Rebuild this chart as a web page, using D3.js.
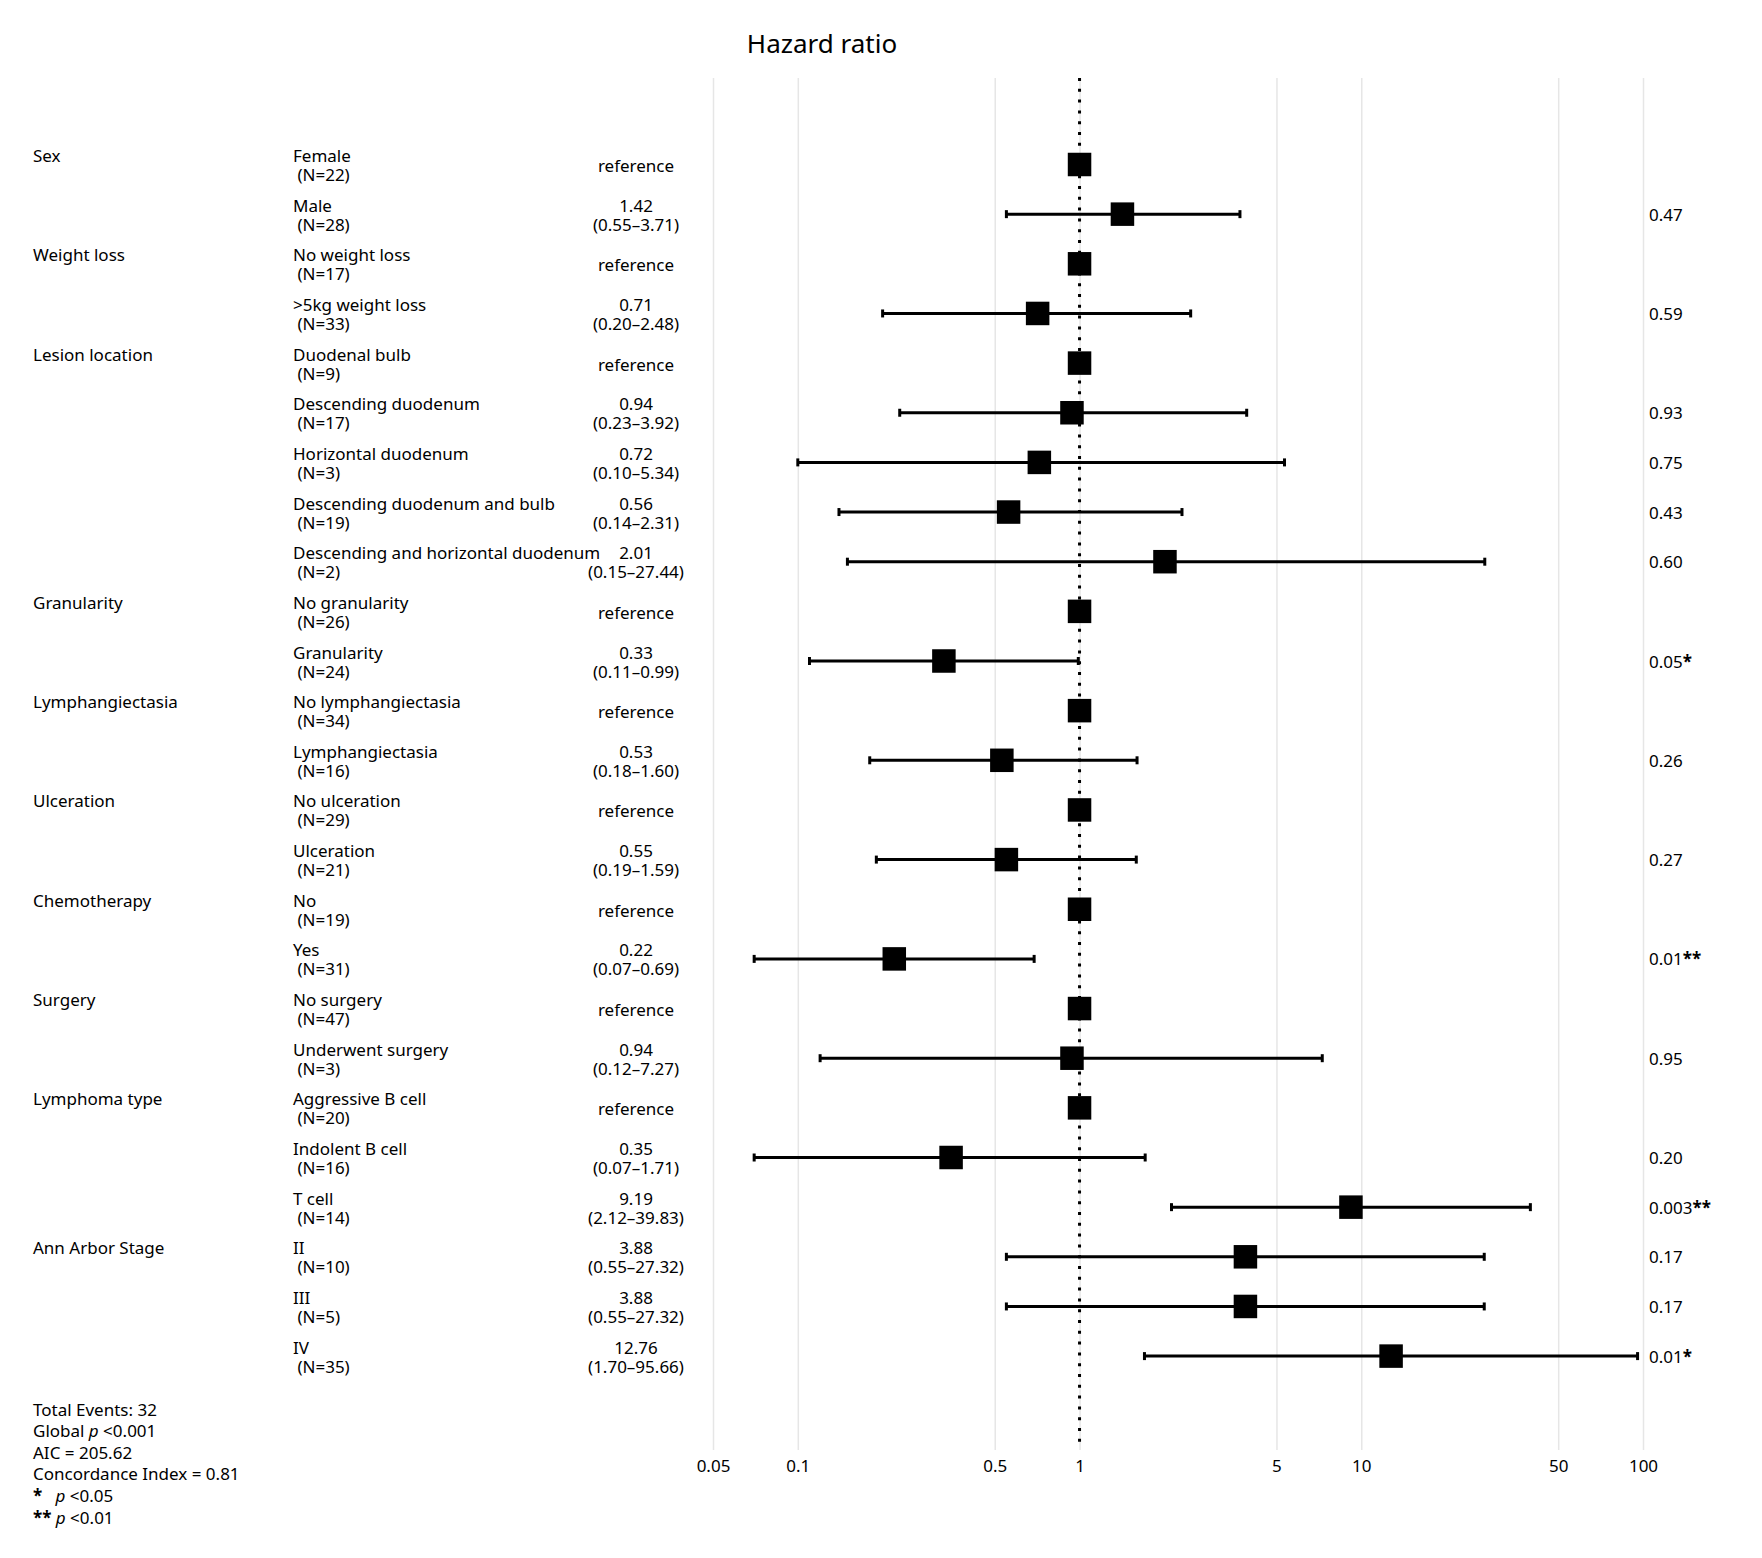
<!DOCTYPE html>
<html lang="en">
    <head>
        <meta charset="utf-8">
        <title>Hazard ratio</title>
        <script src="https://d3js.org/d3.v7.min.js"></script>
        <style type="text/css">
            body {
                margin: 0;
                background: #ffffff;
            }
            text {
                font-family: "Noto Sans", "DejaVu Sans", sans-serif;
                font-size: 17px;
                fill: #000000;
            }
            .title {
                font-size: 26px;
            }
            .grid line {
                stroke: #e6e6e6;
                stroke-width: 1.5px;
            }
            .ci {
                stroke: #000000;
                stroke-width: 3px;
            }
        </style>
    </head>
    <body>
        <script type="text/javascript">

            //data
            const varNames  = ["Sex", "Weight loss", "Lesion location", "Granularity", "Lymphangiectasia",
                               "Ulceration", "Chemotherapy", "Surgery", "Lymphoma type", "Ann Arbor Stage"];
            const varLevels = [2, 2, 5, 2, 2, 2, 2, 2, 3, 3];//levels per variable

            const levels = ["Female", "Male", "No weight loss", ">5kg weight loss", "Duodenal bulb",
                            "Descending duodenum", "Horizontal duodenum", "Descending duodenum and bulb",
                            "Descending and horizontal duodenum", "No granularity", "Granularity",
                            "No lymphangiectasia", "Lymphangiectasia", "No ulceration", "Ulceration",
                            "No", "Yes", "No surgery", "Underwent surgery", "Aggressive B cell",
                            "Indolent B cell", "T cell", "II", "III", "IV"];
            const nCounts = [22, 28, 17, 33, 9, 17, 3, 19, 2, 26, 24, 34, 16, 29, 21, 19, 31, 47, 3, 20, 16, 14, 10, 5, 35];

            //null = reference level
            const hr    = [null, 1.42, null, 0.71, null, 0.94, 0.72, 0.56, 2.01, null, 0.33, null, 0.53, null, 0.55,
                           null, 0.22, null, 0.94, null, 0.35, 9.19, 3.88, 3.88, 12.76];
            const lower = [null, 0.55, null, 0.20, null, 0.23, 0.10, 0.14, 0.15, null, 0.11, null, 0.18, null, 0.19,
                           null, 0.07, null, 0.12, null, 0.07, 2.12, 0.55, 0.55, 1.70];
            const upper = [null, 3.71, null, 2.48, null, 3.92, 5.34, 2.31, 27.44, null, 0.99, null, 1.60, null, 1.59,
                           null, 0.69, null, 7.27, null, 1.71, 39.83, 27.32, 27.32, 95.66];
            const pValues = [null, "0.47", null, "0.59", null, "0.93", "0.75", "0.43", "0.60", null, "0.05", null, "0.26",
                             null, "0.27", null, "0.01", null, "0.95", null, "0.20", "0.003", "0.17", "0.17", "0.01"];
            const pStars  = ["", "", "", "", "", "", "", "", "", "", "*", "", "", "", "", "", "**", "", "", "", "", "**", "", "", "*"];

            const xTicks = [0.05, 0.1, 0.5, 1, 5, 10, 50, 100];

            const footNotes = ["Total Events: 32", "Global |p| <0.001", "AIC = 205.62", "Concordance Index = 0.81",
                               "*|   |p| <0.05", "**| |p| <0.01"];

            //layout
            const w = 1762;
            const h = 1558;
            const colVar = 33;
            const colLevel = 293;
            const colHR = 636;
            const colP = 1649;
            const plotTop = 78;
            const plotBottom = 1450;
            const boxSize = 23.5;
            const capH = 8;
            const fmt = d3.format(".2f");

            const rows = levels.map((d, i) => ({
                i: i,
                level: d,
                n: nCounts[i],
                hr: hr[i] === null ? 1 : hr[i],
                isRef: hr[i] === null,
                lower: lower[i],
                upper: upper[i],
                p: pValues[i],
                star: pStars[i]
            }));

            //first row of each variable
            let start = 0;
            const varRows = varNames.map((v, k) => {
                const r = { name: v, row: start };
                start += varLevels[k];
                return r;
            });

            //scales
            const xScale = d3.scaleLog()
                             .domain([0.05, 100])
                             .range([713, 1643]);

            const yScale = d3.scalePoint()
                             .domain(d3.range(levels.length))
                             .range([164.5, 164.5 + 24 * 49.65]);

            const svg = d3.select("body")
                    .append("svg")
                    .attr("width", w)
                    .attr("height", h);

            //title
            svg.append("text")
               .attr("class", "title")
               .attr("x", 822)
               .attr("y", 53)
               .attr("text-anchor", "middle")
               .text("Hazard ratio");

            //grid lines
            const gridAxis = d3.axisBottom(xScale)
                               .tickValues(xTicks)
                               .tickSize(-(plotBottom - plotTop))
                               .tickFormat("");

            svg.append("g")
               .attr("class", "grid")
               .attr("transform", "translate(0," + plotBottom + ")")
               .call(gridAxis)
               .call(g => g.select(".domain").remove());

            //tick labels
            const bottomAxis = d3.axisBottom(xScale)
                                 .tickValues(xTicks)
                                 .tickSize(0)
                                 .tickPadding(5)
                                 .tickFormat(d3.format("~g"));

            svg.append("g")
               .attr("transform", "translate(0," + (plotBottom + 5) + ")")
               .call(bottomAxis)
               .call(g => g.select(".domain").remove())
               .selectAll("text")
               .attr("fill", "#000")
               .style("font-size", "17px")
               .style("font-family", "\"Noto Sans\", sans-serif");

            //reference line at HR = 1
            svg.append("line")
               .attr("x1", xScale(1))
               .attr("x2", xScale(1))
               .attr("y1", plotTop)
               .attr("y2", plotBottom - 6)
               .attr("stroke", "#000")
               .attr("stroke-width", 3)
               .attr("stroke-dasharray", "3 7.8");

            //confidence intervals
            const ciRows = rows.filter(d => !d.isRef);

            svg.selectAll(".ci")
               .data(ciRows)
               .enter()
               .append("line")
               .attr("class", "ci")
               .attr("x1", d => xScale(d.lower))
               .attr("x2", d => xScale(d.upper))
               .attr("y1", d => yScale(d.i))
               .attr("y2", d => yScale(d.i));

            //end caps
            ["lower", "upper"].forEach(k => {
                svg.selectAll(".cap-" + k)
                   .data(ciRows)
                   .enter()
                   .append("line")
                   .attr("class", "ci cap-" + k)
                   .attr("x1", d => xScale(d[k]))
                   .attr("x2", d => xScale(d[k]))
                   .attr("y1", d => yScale(d.i) - capH / 2)
                   .attr("y2", d => yScale(d.i) + capH / 2);
            });

            //point estimates
            svg.selectAll(".box")
               .data(rows)
               .enter()
               .append("rect")
               .attr("class", "box")
               .attr("x", d => xScale(d.hr) - boxSize / 2)
               .attr("y", d => yScale(d.i) - boxSize / 2)
               .attr("width", boxSize)
               .attr("height", boxSize)
               .attr("fill", "#000");

            //variable names
            svg.selectAll(".varname")
               .data(varRows)
               .enter()
               .append("text")
               .attr("class", "varname")
               .attr("x", colVar)
               .attr("y", d => yScale(d.row) - 2.5)
               .text(d => d.name);

            //level + N
            const lvl = svg.selectAll(".level")
               .data(rows)
               .enter()
               .append("text")
               .attr("class", "level")
               .attr("x", colLevel)
               .attr("y", d => yScale(d.i) - 2.5)
               .attr("xml:space", "preserve");

            lvl.append("tspan").text(d => d.level);
            lvl.append("tspan")
               .attr("x", colLevel)
               .attr("dy", 19)
               .text(d => " (N=" + d.n + ")");

            //HR column
            const hrText = svg.selectAll(".hrtext")
               .data(rows)
               .enter()
               .append("text")
               .attr("class", "hrtext")
               .attr("text-anchor", "middle")
               .attr("x", colHR)
               .attr("y", d => d.isRef ? yScale(d.i) + 7.5 : yScale(d.i) - 2.5);

            hrText.filter(d => d.isRef).text("reference");
            hrText.filter(d => !d.isRef).append("tspan").text(d => fmt(d.hr));
            hrText.filter(d => !d.isRef).append("tspan")
                  .attr("x", colHR)
                  .attr("dy", 19)
                  .text(d => "(" + fmt(d.lower) + "\u2013" + fmt(d.upper) + ")");

            //p values
            const pText = svg.selectAll(".ptext")
               .data(rows.filter(d => d.p !== null))
               .enter()
               .append("text")
               .attr("class", "ptext")
               .attr("x", colP)
               .attr("y", d => yScale(d.i) + 6.5);

            pText.append("tspan").text(d => d.p);
            pText.append("tspan")
                 .style("font-weight", "bold")
                 .text(d => d.star);

            //footnotes, "|" splits plain / italic p / bold stars
            const foot = svg.selectAll(".foot")
               .data(footNotes)
               .enter()
               .append("text")
               .attr("class", "foot")
               .attr("x", colVar)
               .attr("y", (d, i) => 1415.5 + i * 21.6)
               .attr("xml:space", "preserve");

            foot.each(function(d) {
                const parts = d.split("|");
                const t = d3.select(this);
                if (d.startsWith("*")) {
                    t.append("tspan").style("font-weight", "bold").text(parts[0]);
                    t.append("tspan").text(parts[1]);
                    t.append("tspan").style("font-style", "italic").text(parts[2]);
                    t.append("tspan").text(parts[3]);
                } else if (parts.length > 1) {
                    t.append("tspan").text(parts[0]);
                    t.append("tspan").style("font-style", "italic").text(parts[1]);
                    t.append("tspan").text(parts[2]);
                } else {
                    t.text(d);
                }
            });

        </script>
    </body>
</html>
